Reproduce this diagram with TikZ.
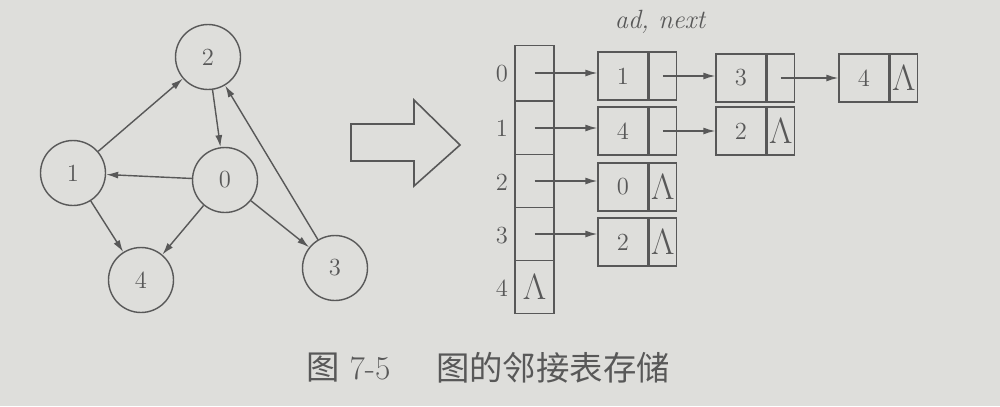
\documentclass[tikz,border=0pt]{standalone}
\usepackage{fontspec}
\newfontfamily\cjk{Noto Sans CJK SC}
\usetikzlibrary{arrows.meta}
\definecolor{paper}{RGB}{222,222,219}
\definecolor{ink}{RGB}{88,88,88}
\newcommand{\nil}{\fontsize{20}{20}\selectfont$\Lambda$}
\tikzset{
  vertex/.style={circle,draw=ink,line width=0.8pt,minimum size=1.3cm,inner sep=0pt,
    text=ink,font=\fontsize{14}{16}\selectfont},
  edge/.style={-{Latex[length=2.4mm,width=1.4mm]},draw=ink,line width=0.8pt},
  headcell/.style={rectangle,draw=ink,line width=0.8pt,minimum width=0.78cm,
    minimum height=1.06cm,inner sep=0pt,text=ink,font=\fontsize{14}{16}\selectfont},
  datafield/.style={rectangle,draw=ink,line width=0.8pt,minimum width=1cm,
    minimum height=0.96cm,inner sep=0pt,text=ink,font=\fontsize{14}{16}\selectfont},
  nextfield/.style={rectangle,draw=ink,line width=0.8pt,minimum width=0.54cm,
    minimum height=0.96cm,inner sep=0pt,anchor=west,text=ink,font=\fontsize{14}{16}\selectfont},
  index/.style={text=ink,font=\fontsize{14}{16}\selectfont},
}
\begin{document}
\begin{tikzpicture}[x=0.02cm,y=-0.02cm]
    \fill[paper] (0,0) rectangle (1000,406);
    % the graph
    \node[vertex] (n2) at (208,57) {2};
    \node[vertex] (n1) at (73,173) {1};
    \node[vertex] (n0) at (225,180) {0};
    \node[vertex] (n4) at (141,280) {4};
    \node[vertex] (n3) at (335,268) {3};
    \draw[edge] (n1) -- (n2);
    \draw[edge] (n2) -- (n0);
    \draw[edge] (n0) -- (n1);
    \draw[edge] (n1) -- (n4);
    \draw[edge] (n0) -- (n4);
    \draw[edge] (n0) -- (n3);
    \draw[edge] (n3) -- (n2);
    % hollow arrow
    \draw[ink,line width=0.9pt] (351,124) -- (414,124) -- (414,100) -- (460,145)
        -- (414,186) -- (414,161) -- (351,161) -- cycle;
    % handwritten note
    \node[ink,font=\fontsize{15}{17}\selectfont\itshape] (note) at (660,22) {ad, next};
    % vertex table
    \foreach \i/\y in {0/74,1/128,2/182,3/236,4/288} {
        \node[index] (k\i) at (502,\y) {\i};
    }
    \node[headcell,minimum height=1.1cm] (v0) at (534.5,73) {};
    \node[headcell] (v1) at (534.5,128) {};
    \node[headcell] (v2) at (534.5,181) {};
    \node[headcell] (v3) at (534.5,234) {};
    \node[headcell] (v4) at (534.5,287) {\nil};
    % edge lists
    \node[datafield] (a01) at (623,76) {1};
    \node[nextfield] (a01n) at (a01.east) {};
    \node[datafield] (a03) at (741,78) {3};
    \node[nextfield] (a03n) at (a03.east) {};
    \node[datafield] (a04) at (864,78) {4};
    \node[nextfield] (a04n) at (a04.east) {\nil};
    \node[datafield] (a14) at (623,131) {4};
    \node[nextfield] (a14n) at (a14.east) {};
    \node[datafield] (a12) at (741,131) {2};
    \node[nextfield] (a12n) at (a12.east) {\nil};
    \node[datafield] (a20) at (623,187) {0};
    \node[nextfield] (a20n) at (a20.east) {\nil};
    \node[datafield] (a32) at (623,242) {2};
    \node[nextfield] (a32n) at (a32.east) {\nil};
    \draw[edge] (v0.center) -- (a01.west |- v0.center);
    \draw[edge] (a01n.center) -- (a03.west |- a01n.center);
    \draw[edge] (a03n.center) -- (a04.west |- a03n.center);
    \draw[edge] (v1.center) -- (a14.west |- v1.center);
    \draw[edge] (a14n.center) -- (a12.west |- a14n.center);
    \draw[edge] (v2.center) -- (a20.west |- v2.center);
    \draw[edge] (v3.center) -- (a32.west |- v3.center);
    % caption
    \node[ink,anchor=west,font=\fontsize{19}{21}\selectfont] (cap1) at (300,368) {{\cjk 图} 7-5};
    \node[ink,anchor=west,font=\fontsize{19}{21}\selectfont\cjk] (cap2) at (430,368) {图的邻接表存储};
\end{tikzpicture}
\end{document}
